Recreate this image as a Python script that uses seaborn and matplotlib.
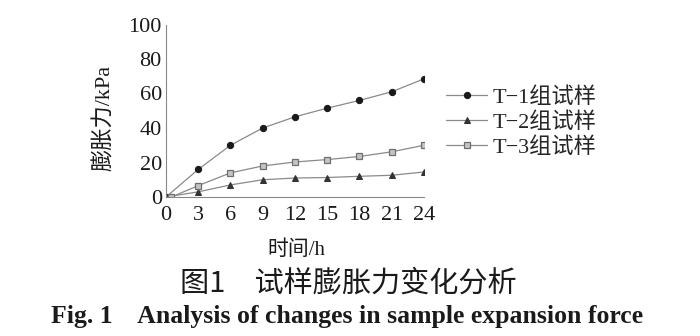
import matplotlib
matplotlib.use("Agg")
import matplotlib.pyplot as plt
import seaborn as sns
import pandas as pd

sns.set_theme(style="white")
plt.rcParams['font.family'] = ['Liberation Serif', 'Noto Sans CJK SC', 'DejaVu Sans']

hours = [0, 3, 6, 9, 12, 15, 18, 21, 24]
hours_t3 = [0.5, 3, 6, 9, 12, 15, 18, 21, 24]
t1 = [0, 16, 30, 40, 46.5, 51.5, 56, 61, 68.5]
t2 = [0, 3, 7, 10, 11, 11.3, 12, 12.6, 14.5]
t3 = [0, 6.6, 14, 18, 20.3, 21.7, 23.5, 26.2, 30]
labels = ["T\u22121组试样", "T\u22122组试样", "T\u22123组试样"]
x_ticks = [0, 3, 6, 9, 12, 15, 18, 21, 24]
y_ticks = [0, 20, 40, 60, 80, 100]

fig = plt.figure(figsize=(7, 3.36), dpi=100)
ax = fig.add_axes([166/700, 1-197/336, (424-166)/700, 172.5/336])

line_col = "#8a8a8a"
styles = [
    dict(marker="o", markersize=4.5, markerfacecolor="#1a1a1a", markeredgecolor="#1a1a1a"),
    dict(marker="^", markersize=4.5, markerfacecolor="#333333", markeredgecolor="#333333"),
    dict(marker="s", markersize=4.2, markerfacecolor="#c4c4c4", markeredgecolor="#6e6e6e", markeredgewidth=0.9),
]
series = [(hours, t1), (hours, t2), (hours_t3, t3)]
for (xs, ys), lab, st in zip(series, labels, styles):
    df = pd.DataFrame({"h": xs, "v": ys})
    sns.lineplot(data=df, x="h", y="v", ax=ax, color=line_col, linewidth=0.9,
                 label=lab, **st)

ax.set_xlim(0, 24)
ax.set_ylim(0, 100)
ax.set_xticks(x_ticks)
ax.set_yticks(y_ticks)
ax.set_yticks([10, 30, 50, 70, 90], minor=True)
ax.tick_params(axis="both", which="both", direction="in", length=3, width=0.7,
               color="#888888", labelsize=16, pad=3, labelcolor="#1a1a1a")
ax.tick_params(axis="x", pad=6.5)
for s in ["top", "right"]:
    ax.spines[s].set_visible(False)
for s in ["left", "bottom"]:
    ax.spines[s].set_color("#888888")
    ax.spines[s].set_linewidth(0.8)
ax.set_xlabel("")
ax.set_ylabel("")

fig.text(104/700, 1-118/336, "膨胀力/kPa", rotation=90, ha="center", va="center",
         fontsize=16, color="#1a1a1a", family=['Liberation Serif', 'Noto Sans CJK SC'])
fig.text(296/700, 1-250/336, "时间/h", ha="center", va="center",
         fontsize=15, color="#1a1a1a", family=['Liberation Serif', 'Noto Sans CJK SC'])

handles, labs = ax.get_legend_handles_labels()
if ax.legend_:
    ax.legend_.remove()
fig.legend(handles, labs, loc="upper left", bbox_to_anchor=(446/700, 1-87/336),
           frameon=False, handlelength=1.85, handletextpad=0.25,
           labelspacing=0.2, borderpad=0, borderaxespad=0,
           prop={'family': ['Liberation Serif', 'Noto Sans CJK SC'], 'size': 16})

fig.text(348/700, 1-283/336, "图1\u3000试样膨胀力变化分析", ha="center", va="center",
         fontsize=21, color="#1a1a1a", family=['Noto Sans CJK SC'])
fig.text(347/700, 1-317/336, "Fig. 1    Analysis of changes in sample expansion force",
         ha="center", va="center", fontsize=18.5, fontweight="bold", color="#1a1a1a",
         family=['Liberation Serif'])

fig.savefig("out.png", dpi=100, facecolor="white")
